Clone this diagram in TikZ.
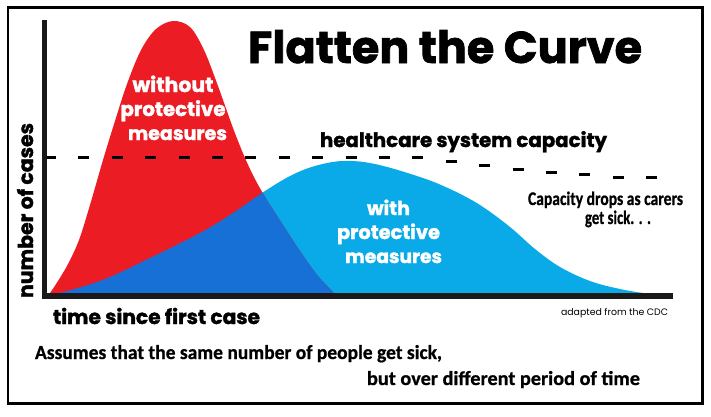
\documentclass[tikz,border=0pt]{standalone}
\usepackage{fontspec}
\usepackage{graphicx}
\setmainfont{Poppins}
\newfontfamily\heavyfont{Poppins}[BoldFeatures={FakeBold=1.6}]
\newfontfamily\handfont{Carlito}[BoldFeatures={FakeBold=0.8}]
\newcommand{\fitto}[2]{\resizebox{#1pt}{!}{#2}}
\newcommand{\fitwh}[3]{\resizebox{#1pt}{#2pt}{#3}}
\definecolor{cred}{RGB}{236,28,36}
\definecolor{clight}{RGB}{10,170,232}
\definecolor{cdark}{RGB}{22,112,214}
\begin{document}
\begin{tikzpicture}[x=1pt,y=-1pt,
  lbl/.style={inner sep=0pt,outer sep=0pt,anchor=base west},
  lblc/.style={inner sep=0pt,outer sep=0pt,anchor=base},
  dashseg/.style={line width=3pt,black},
  axisline/.style={line width=5.5pt,black!90}]
\useasboundingbox (0,0) rectangle (711,416);
\fill[white] (0,0) rectangle (711,416);
% frame
\draw[line width=2.5pt,black] (8,7.5) rectangle (702.5,403.5);
% blue curve (with protective measures)
\fill[clight] plot[smooth,tension=.6] coordinates {(48,296) (100,281) (150,258) (200,233) (233,213) (262,193) (290,176) (315,166) (343,161) (375,164) (420,177) (450,189) (480,205) (510,227) (535,249) (560,267) (590,281) (620,289) (650,294) (670,296)} -- cycle;
% red curve (without protective measures)
\fill[cred] plot[smooth,tension=.55] coordinates {(48,296) (58,281) (68,264) (79,240) (90,205) (103,160) (115,121) (127,84) (141,50) (156,29) (173,21) (190,27) (204,50) (218,86) (233,128) (245,158) (256,181) (267,200) (283,225) (300,251) (318,276) (337,296)} -- cycle;
% overlap
\begin{scope}
\clip plot[smooth,tension=.55] coordinates {(48,296) (58,281) (68,264) (79,240) (90,205) (103,160) (115,121) (127,84) (141,50) (156,29) (173,21) (190,27) (204,50) (218,86) (233,128) (245,158) (256,181) (267,200) (283,225) (300,251) (318,276) (337,296)} -- cycle;
\fill[cdark] plot[smooth,tension=.6] coordinates {(48,296) (100,281) (150,258) (200,233) (233,213) (262,193) (290,176) (315,166) (343,161) (375,164) (420,177) (450,189) (480,205) (510,227) (535,249) (560,267) (590,281) (620,289) (650,294) (670,296)} -- cycle;
\end{scope}
% capacity dashes
\foreach \k/\yy in {0/157,1/157,2/157,3/157,4/157,5/157,6/157,7/157,8/157,9/157,10/157,11/157.5,12/161,13/165,14/169,15/172,16/174.5,17/177,18/177.5}
  {\draw[dashseg] ({45+33.4*\k},\yy) -- ++(11,0);}
% axes
\coordinate (ytop) at (44.5,20);
\coordinate (origin) at (44.5,296);
\coordinate (xend) at (673,296);
\draw[axisline] (ytop) -- ([yshift=-3pt]origin);
\draw[axisline,line width=6pt] ([xshift=-2.75pt]origin) -- (xend);
% texts
\node[lbl] (title) at (248,63) {\fitto{394}{\heavyfont\bfseries Flatten the Curve}};
\node[lblc,text=white] (wo1) at (173,92) {\fitto{81}{\heavyfont\bfseries without}};
\node[lblc,text=white] (wo2) at (173,116) {\fitto{105}{\heavyfont\bfseries protective}};
\node[lblc,text=white] (wo3) at (177.5,140) {\fitto{99}{\heavyfont\bfseries measures}};
\node[lblc,text=white] (wi1) at (388.5,215) {\fitto{43}{\heavyfont\bfseries with}};
\node[lblc,text=white] (wi2) at (388.5,239) {\fitto{103}{\heavyfont\bfseries protective}};
\node[lblc,text=white] (wi3) at (393.5,263) {\fitto{97}{\heavyfont\bfseries measures}};
\node[lbl] (cap) at (320,147) {\fitto{287}{\heavyfont\bfseries healthcare system capacity}};
\node[lbl] (drop1) at (528,205) {\fitwh{155}{13.5}{\handfont\bfseries Capacity drops as carers}};
\node[lbl] (drop2) at (585,224) {\fitwh{66}{13.5}{\handfont\bfseries get sick. . .}};
\node[lbl,rotate=90] (ylab) at (33,298) {\fitto{175}{\heavyfont\bfseries number of cases}};
\node[lbl] (xlab) at (53,324) {\fitto{207}{\heavyfont\bfseries time since first case}};
\node[lbl] (cdc) at (561,315) {\fitto{107}{adapted from the CDC}};
\node[lbl] (note1) at (35,359) {\fitwh{407}{14}{\handfont\bfseries Assumes that the same number of people get sick,}};
\node[lbl] (note2) at (367,385) {\fitwh{273}{14}{\handfont\bfseries but over different period of time}};
\end{tikzpicture}
\end{document}
